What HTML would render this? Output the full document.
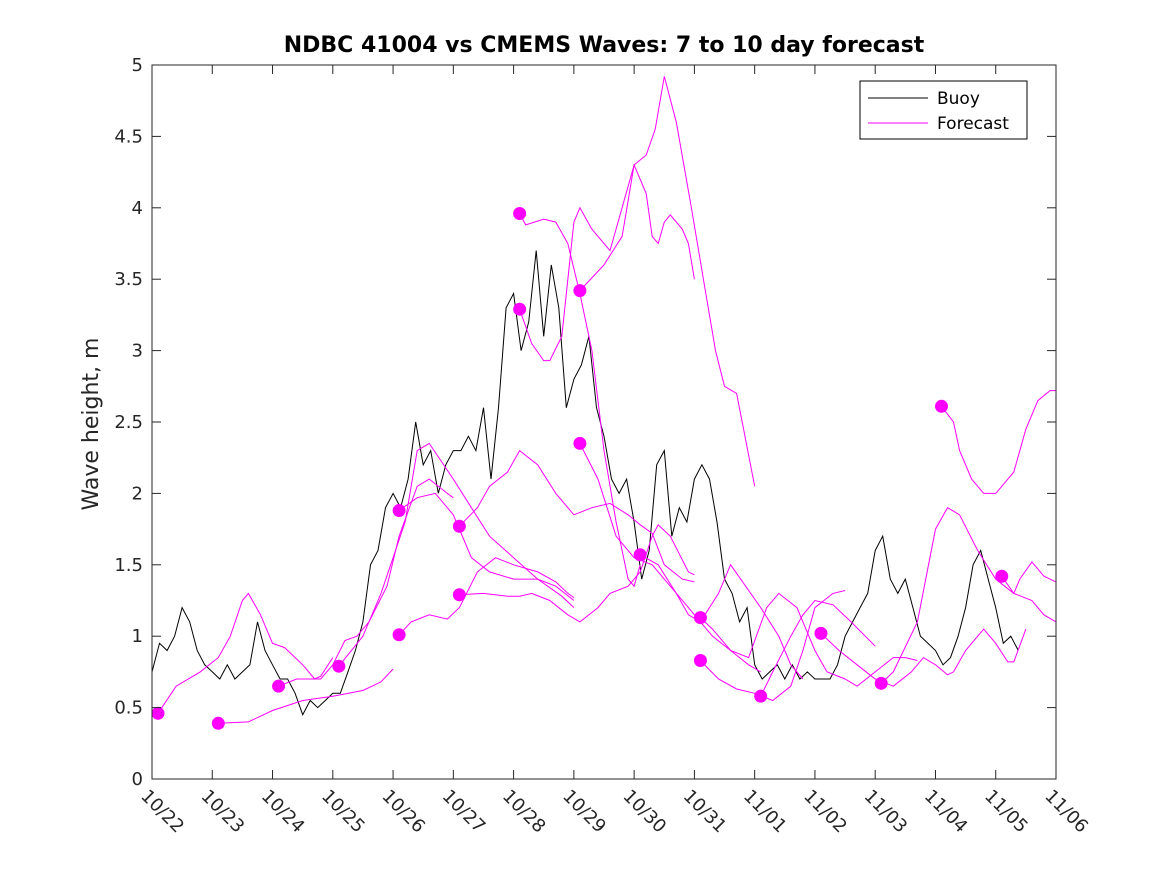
<!DOCTYPE html>
<html><head><meta charset="utf-8"><style>
body{margin:0;background:#fff;}
svg{display:block;font-family:"DejaVu Sans","Liberation Sans",sans-serif;}
</style></head><body>
<svg id="chart" width="1167" height="875">
<rect x="0" y="0" width="1167" height="875" fill="#fff"/>
<text x="604" y="52" text-anchor="middle" font-size="22" font-weight="bold">NDBC 41004 vs CMEMS Waves: 7 to 10 day forecast</text>
<text transform="translate(98,424) rotate(-90)" text-anchor="middle" font-size="22" fill="#262626">Wave height, m</text>
<g id="marks"></g>
<g id="axes"></g>
<g>
<rect x="860" y="81" width="167" height="58" fill="#fff" stroke="#000" stroke-width="1"/>
<line x1="868" y1="98" x2="928" y2="98" stroke="#000"/>
<text x="937" y="104" font-size="17">Buoy</text>
<line x1="868" y1="123" x2="928" y2="123" stroke="#f0f"/>
<text x="937" y="129" font-size="17">Forecast</text>
</g>
</svg>
<script>
const xTickLabels=["10/22","10/23","10/24","10/25","10/26","10/27","10/28","10/29","10/30","10/31","11/01","11/02","11/03","11/04","11/05","11/06"];
const yTicks=[0,0.5,1,1.5,2,2.5,3,3.5,4,4.5,5];
const buoyStep=0.125;
const buoyValues=[0.75,0.95,0.9,1.0,1.2,1.1,0.9,0.8,0.75,
0.7,0.8,0.7,0.75,0.8,1.1,0.9,0.8,
0.7,0.7,0.6,0.45,0.55,0.5,0.55,0.6,
0.6,0.75,0.9,1.1,1.5,1.6,1.9,2.0,
1.9,2.1,2.5,2.2,2.3,2.0,2.2,2.3,
2.3,2.4,2.3,2.6,2.1,2.6,3.3,3.4,
3.0,3.2,3.7,3.1,3.6,3.3,2.6,2.8,
2.9,3.1,2.6,2.4,2.1,2.0,2.1,1.8,
1.4,1.6,2.2,2.3,1.7,1.9,1.8,2.1,
2.2,2.1,1.8,1.4,1.3,1.1,1.2,0.8,
0.7,0.75,0.8,0.7,0.8,0.7,0.75,0.7,
0.7,0.7,0.8,1.0,1.1,1.2,1.3,1.6,
1.7,1.4,1.3,1.4,1.2,1.0,0.95,0.9,
0.8,0.85,1.0,1.2,1.5,1.6,1.4,1.2,
0.95,1.0,0.9];
const fcA_t=[0.1,0.4,0.8,1.1,1.3,1.5,1.6,1.8,2.0,2.2,2.5,2.7,2.8,3.0];
const fcA_v=[0.46,0.65,0.75,0.85,1.0,1.25,1.3,1.15,0.95,0.92,0.8,0.7,0.72,0.85];
const fcB_t=[1.1,1.6,2.0,2.5,3.0,3.5,3.8,4.0];
const fcB_v=[0.39,0.4,0.48,0.55,0.58,0.62,0.68,0.77];
const fcC_t=[2.1,2.4,2.8,3.0,3.2,3.4,3.6,3.9,4.1,4.4,4.6,4.9,5.0];
const fcC_v=[0.65,0.7,0.7,0.8,0.97,1.0,1.1,1.35,1.7,2.05,2.1,2.0,1.97];
const fcD_t=[3.1,3.5,3.8,4.2,4.4,4.6,5.0,5.3,5.6,6.0,6.4,6.8,7.0];
const fcD_v=[0.79,1.0,1.3,1.8,2.3,2.35,2.1,1.9,1.7,1.55,1.4,1.28,1.2];
const fcE_t=[4.1,4.3,4.6,4.9,5.1,5.4,5.7,6.0,6.4,6.7,6.9,7.0];
const fcE_v=[1.01,1.1,1.15,1.12,1.2,1.45,1.55,1.5,1.45,1.38,1.3,1.27];
const fcF_t=[4.1,4.4,4.7,5.0,5.3,5.6,6.0,6.4,6.7,7.0];
const fcF_v=[1.88,1.97,2.0,1.85,1.55,1.45,1.4,1.4,1.35,1.25];
const fcG_t=[5.1,5.4,5.6,5.9,6.1,6.4,6.7,7.0,7.3,7.6,7.9,8.1,8.3,8.5,8.8,9.0];
const fcG_v=[1.77,1.9,2.05,2.15,2.3,2.2,2.0,1.85,1.9,1.93,1.85,1.78,1.72,1.5,1.4,1.38];
const fcH_t=[5.1,5.5,5.9,6.1,6.3,6.6,6.9,7.1,7.4,7.6,7.9,8.1,8.3,8.4,8.6,8.9,9.0];
const fcH_v=[1.29,1.3,1.28,1.28,1.3,1.25,1.15,1.1,1.2,1.3,1.35,1.45,1.7,1.78,1.7,1.45,1.43];
const fcI_t=[6.1,6.2,6.5,6.7,6.9,7.1,7.3,7.5,7.7,7.9,8.0,8.1];
const fcI_v=[3.96,3.88,3.92,3.9,3.75,3.4,3.0,2.3,1.8,1.4,1.35,1.5];
const fcJ_t=[6.1,6.3,6.5,6.6,6.8,7.0,7.1,7.3,7.6,7.8,8.0,8.2,8.3,8.4,8.5,8.6,8.8,8.9,9.0];
const fcJ_v=[3.29,3.05,2.93,2.93,3.1,3.9,4.0,3.85,3.7,4.0,4.3,4.1,3.8,3.75,3.9,3.95,3.85,3.75,3.5];
const fcK_t=[7.1,7.5,7.8,8.0,8.2,8.35,8.5,8.7,8.95,9.15,9.35,9.5,9.7,10.0];
const fcK_v=[3.42,3.6,3.8,4.3,4.37,4.55,4.92,4.6,4.0,3.5,3.0,2.75,2.7,2.05];
const fcL_t=[7.1,7.4,7.7,8.0,8.3,8.6,8.9,9.0,9.3,9.6,9.9,10.1];
const fcL_v=[2.35,2.1,1.7,1.55,1.5,1.35,1.2,1.15,1.0,0.9,0.8,0.75];
const fcM_t=[8.1,8.4,8.7,8.9,9.1,9.4,9.6,10.1,10.4,10.6,10.8];
const fcM_v=[1.57,1.5,1.3,1.15,1.1,1.3,1.5,1.2,1.0,0.8,0.7];
const fcN_t=[9.1,9.3,9.6,9.9,10.2,10.4,10.7,11.0,11.2,11.5,11.7,12.0,12.3,12.5,12.7];
const fcN_v=[1.13,1.05,0.9,0.85,1.2,1.3,1.2,0.9,0.75,0.7,0.65,0.75,0.85,0.85,0.83];
const fcO_t=[9.1,9.4,9.7,10.0,10.3,10.6,10.8,11.0,11.3,11.5];
const fcO_v=[0.83,0.7,0.63,0.6,0.55,0.65,0.9,1.2,1.3,1.32];
const fcP_t=[10.1,10.3,10.6,10.8,11.0,11.3,11.6,12.0];
const fcP_v=[0.58,0.75,1.0,1.15,1.25,1.22,1.1,0.93];
const fcQ_t=[11.1,11.4,11.7,12.0,12.3,12.6,12.8,13.0,13.2,13.3,13.5,13.7,13.8,14.0,14.2,14.3,14.5];
const fcQ_v=[1.02,0.9,0.8,0.7,0.65,0.75,0.85,0.8,0.73,0.75,0.9,1.0,1.05,0.95,0.82,0.82,1.05];
const fcR_t=[12.1,12.3,12.7,13.0,13.2,13.4,13.7,14.0,14.3,14.6,14.8,15.0];
const fcR_v=[0.67,0.75,1.1,1.75,1.9,1.85,1.6,1.4,1.3,1.25,1.15,1.1];
const fcS_t=[13.1,13.3,13.4,13.6,13.8,14.0,14.1,14.3,14.5,14.7,14.9,15.0];
const fcS_v=[2.61,2.5,2.3,2.1,2.0,2.0,2.05,2.15,2.45,2.65,2.72,2.72];
const fcT_t=[14.1,14.3,14.4,14.6,14.8,15.0];
const fcT_v=[1.42,1.3,1.4,1.52,1.42,1.38];
const forecastTimes=[fcA_t,fcB_t,fcC_t,fcD_t,fcE_t,fcF_t,fcG_t,fcH_t,fcI_t,fcJ_t,fcK_t,fcL_t,fcM_t,fcN_t,fcO_t,fcP_t,fcQ_t,fcR_t,fcS_t,fcT_t];
const forecastValues=[fcA_v,fcB_v,fcC_v,fcD_v,fcE_v,fcF_v,fcG_v,fcH_v,fcI_v,fcJ_v,fcK_v,fcL_v,fcM_v,fcN_v,fcO_v,fcP_v,fcQ_v,fcR_v,fcS_v,fcT_v];

const NS="http://www.w3.org/2000/svg";
const X0=152,X1=1056,Y0=779,Y1=65;
function xs(d){return X0+d*(X1-X0)/15;}
function ys(v){return Y0-v*(Y0-Y1)/5;}
const marks=document.getElementById('marks');
const axes=document.getElementById('axes');
function mk(tag,attrs,parent){const e=document.createElementNS(NS,tag);for(const k in attrs)e.setAttribute(k,attrs[k]);parent.appendChild(e);return e;}

let bp=buoyValues.map((v,i)=>xs(i*buoyStep).toFixed(1)+","+ys(v).toFixed(1)).join(" ");
const bl=mk('polyline',{points:bp,fill:'none',stroke:'#000','stroke-width':1},marks);



forecastTimes.forEach((ts,k)=>{
  const vs=forecastValues[k];
  const p=ts.map((t,i)=>xs(t).toFixed(1)+","+ys(vs[i]).toFixed(1)).join(" ");
  const l=mk('polyline',{points:p,fill:'none',stroke:'#f0f','stroke-width':1},marks);
  
  
  const c=mk('circle',{cx:xs(ts[0]),cy:ys(vs[0]),r:6.5,fill:'#f0f'},marks);
  
  
});

const frame=mk('rect',{x:X0,y:Y1,width:X1-X0,height:Y0-Y1,fill:'none',stroke:'#262626','stroke-width':1},axes);


yTicks.forEach(v=>{
  const y=ys(v);
  mk('line',{x1:X0,y1:y,x2:X0+9,y2:y,stroke:'#262626'},axes);
  mk('line',{x1:X1,y1:y,x2:X1-9,y2:y,stroke:'#262626'},axes);
  const t=mk('text',{x:X0-9,y:y+6,'text-anchor':'end','font-size':18,fill:'#262626'},axes);
  t.textContent=String(v);
  
  
});
xTickLabels.forEach((lab,i)=>{
  const x=xs(i);
  mk('line',{x1:x,y1:Y0,x2:x,y2:Y0-9,stroke:'#262626'},axes);
  mk('line',{x1:x,y1:Y1,x2:x,y2:Y1+9,stroke:'#262626'},axes);
  const t=mk('text',{x:0,y:0,'font-size':18,fill:'#262626',transform:`translate(${x-12},${Y0+18}) rotate(45)`},axes);
  t.textContent=lab;
  
  
});
</script>
</body></html>
